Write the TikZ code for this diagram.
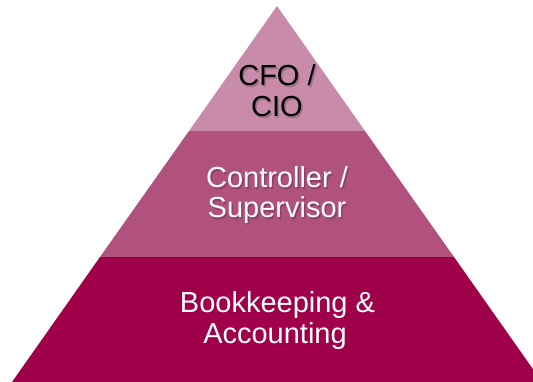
\documentclass[tikz,border=0pt]{standalone}
\usepackage{fontspec}
\setmainfont{Liberation Sans}
\definecolor{tiertop}{HTML}{C88BAA}
\definecolor{tiermid}{HTML}{B0527D}
\definecolor{tierbot}{HTML}{A0004A}
\tikzset{
  x=1pt, y=1pt,
  lbl/.style={anchor=base, inner sep=0pt, font=\fontsize{29}{29}\selectfont},
  shd/.style={lbl, text=black, opacity=0.2},
}
\begin{document}
\begin{tikzpicture}
\useasboundingbox (0,0) rectangle (533,382);
\begin{scope}
\clip (0,0) rectangle (533,382);
% tiers
\coordinate (apex) at (277,376);
\coordinate (tl) at (189,251);
\coordinate (tr) at (365,251);
\coordinate (ml) at (100,125);
\coordinate (mr) at (454,125);
\coordinate (bl) at (12,0);
\coordinate (br) at (542,0);
\fill[tierbot] (ml) -- (mr) -- (br) -- (bl) -- cycle;
\fill[tiermid] (tl) -- (tr) -- (mr) -- (ml) -- cycle;
\fill[tiertop] (apex) -- (tr) -- (tl) -- cycle;
\end{scope}
% shadows
\node[shd] at (278.5,294.5) {CFO /};
\node[shd] at (278.5,263.5) {CIO};
\node[shd] at (278.5,192.5) {Controller /};
\node[shd] at (278.5,162.5) {Supervisor};
% labels
\node[lbl, text=black] (t1) at (277,296) {CFO /};
\node[lbl, text=black] (t2) at (277,265) {CIO};
\node[lbl, text=white] (m1) at (277,194) {Controller /};
\node[lbl, text=white] (m2) at (277,164) {Supervisor};
\node[lbl, text=white] (b1) at (277.5,69) {Bookkeeping \&};
\node[lbl, text=white] (b2) at (275,38) {Accounting};
\end{tikzpicture}
\end{document}
